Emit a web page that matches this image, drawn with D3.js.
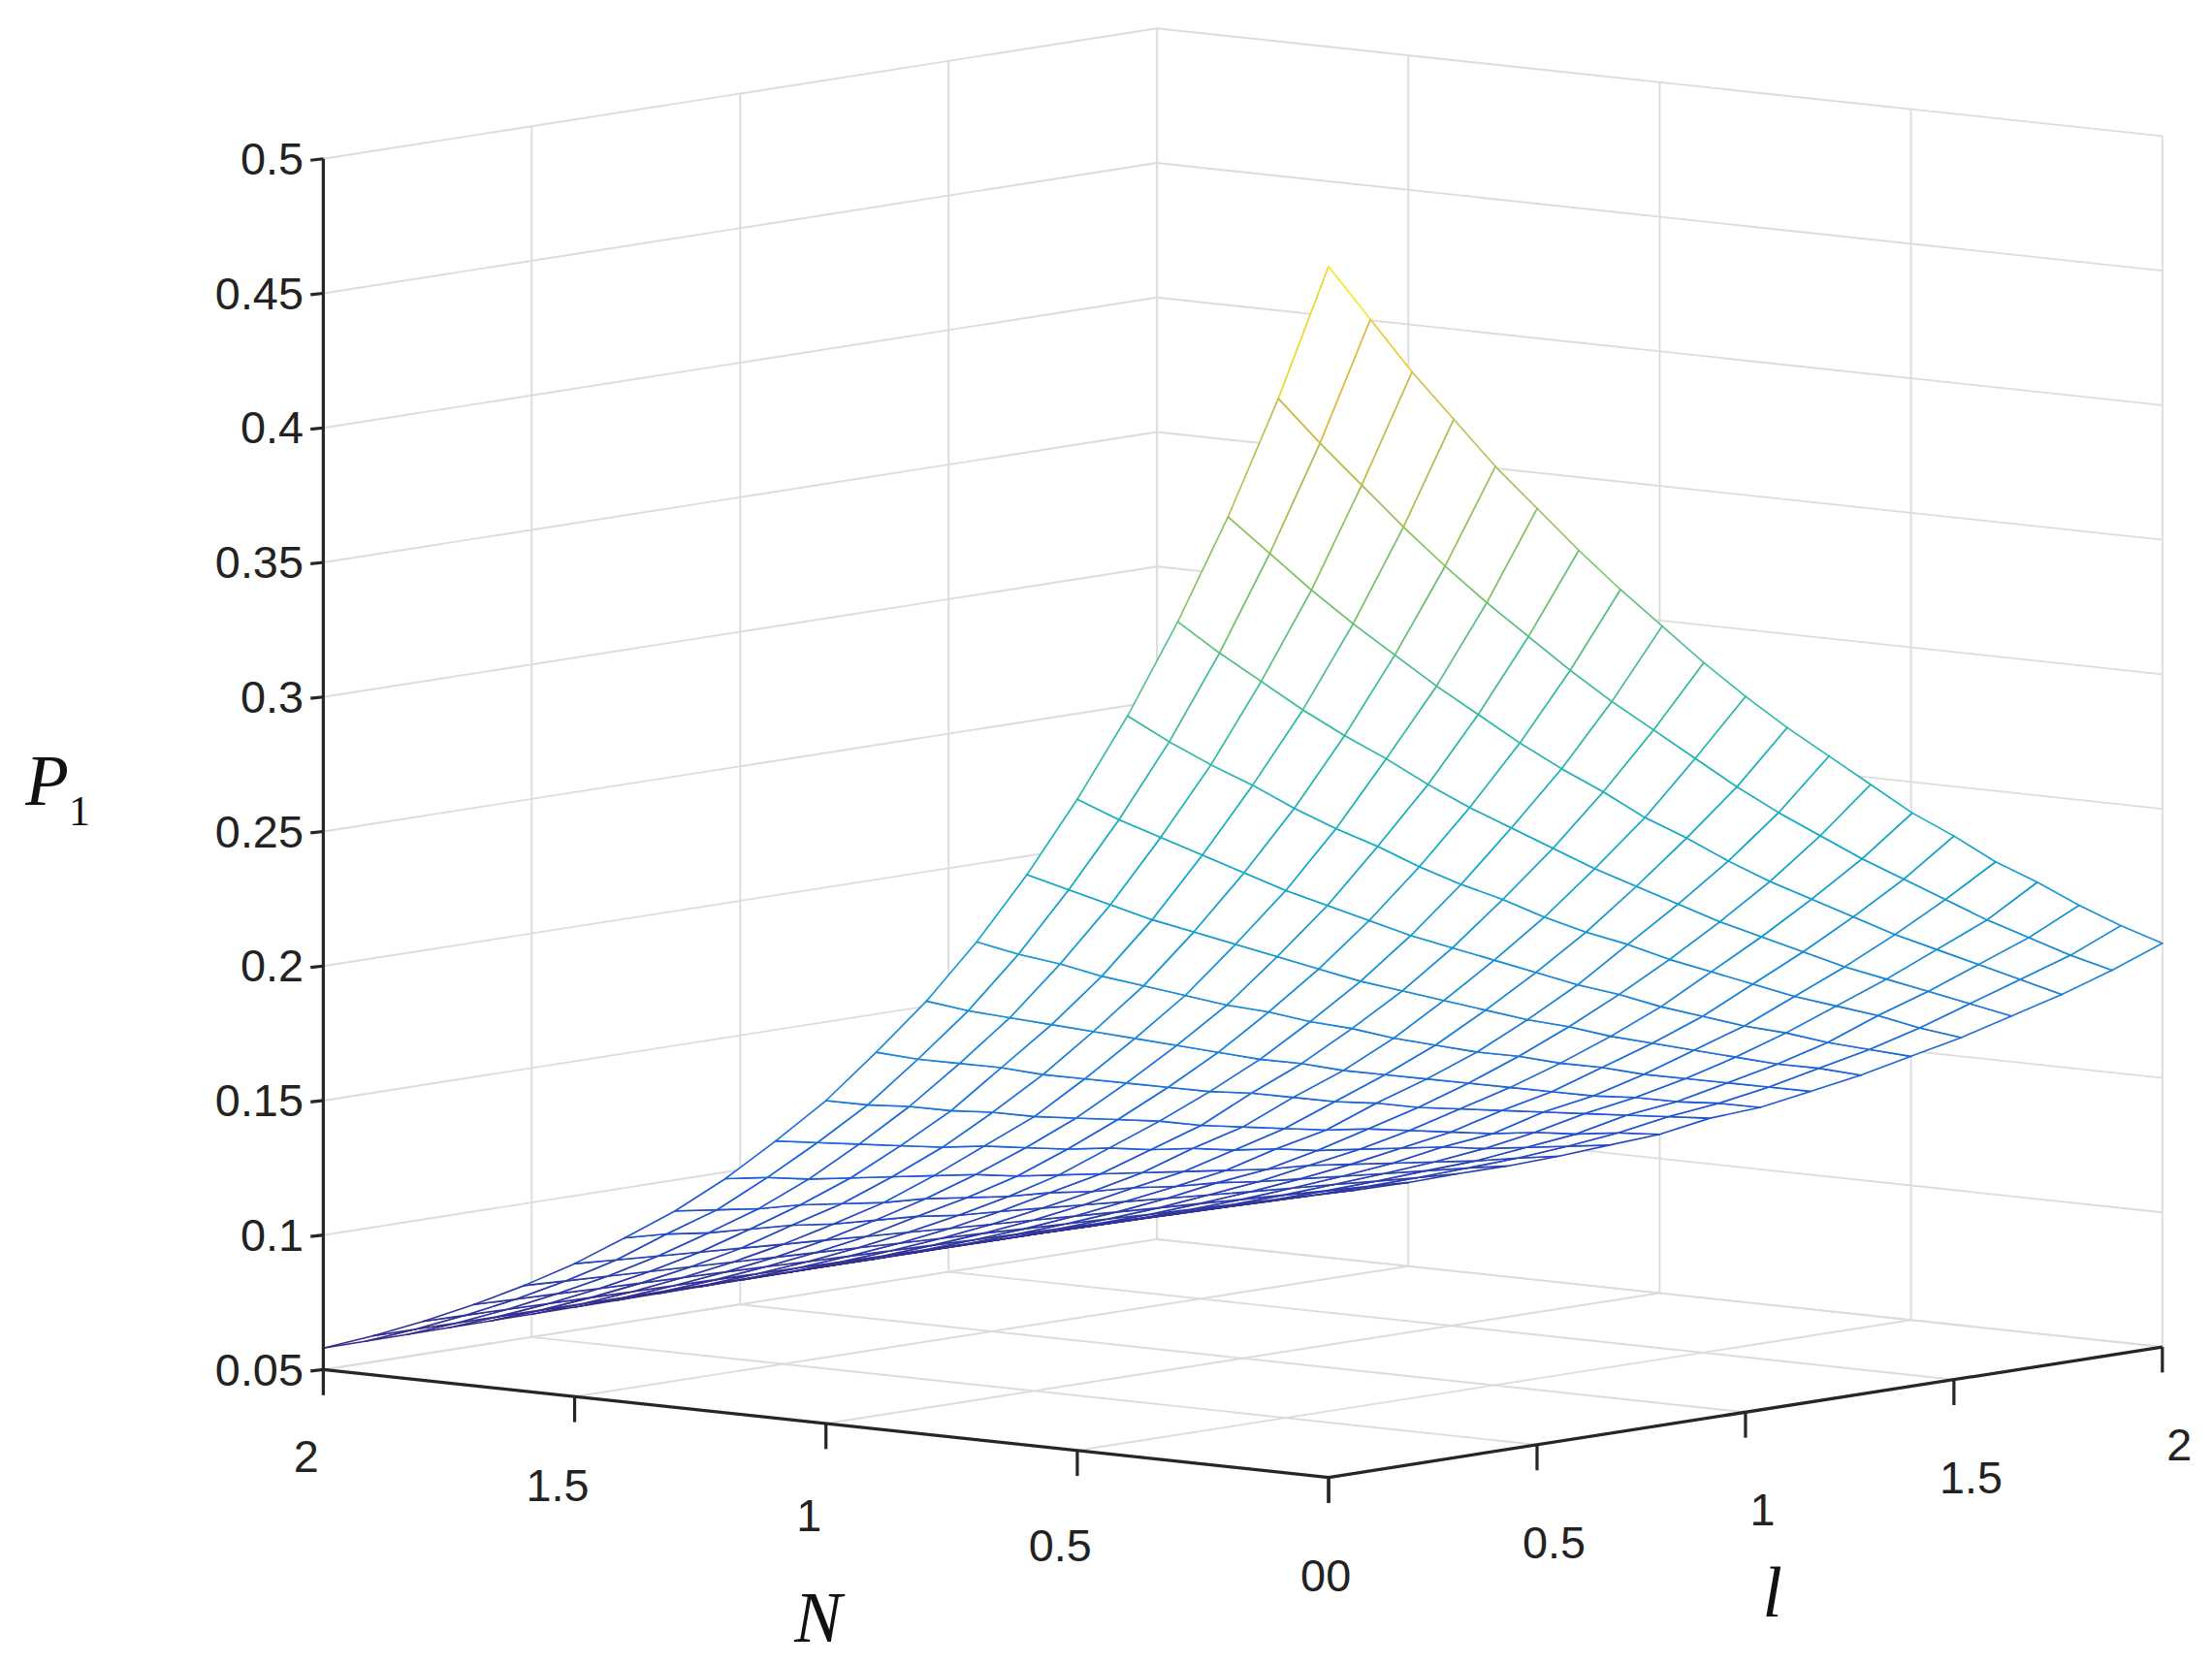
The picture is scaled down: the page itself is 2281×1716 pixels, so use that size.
<!DOCTYPE html>
<html>
<head>
<meta charset="utf-8">
<script src="https://cdn.jsdelivr.net/npm/d3@7"></script>
<style>
  html, body { margin: 0; padding: 0; background: #fff; }
  svg { display: block; }
  .tick { font-family: "Liberation Sans", Arial, sans-serif; font-size: 32px; fill: #222; }
  .lab { font-family: "Liberation Serif", "Times New Roman", serif; font-style: italic; font-size: 50px; fill: #111; }
</style>
</head>
<body>
<div id="chart"></div>
<script>
// grid values of the surface
var nVals = [0, 0.1, 0.2, 0.3, 0.4, 0.5, 0.6, 0.7, 0.8, 0.9, 1.0, 1.1, 1.2, 1.3, 1.4, 1.5, 1.6, 1.7, 1.8, 1.9, 2.0];
var lVals = [0, 0.1, 0.2, 0.3, 0.4, 0.5, 0.6, 0.7, 0.8, 0.9, 1.0, 1.1, 1.2, 1.3, 1.4, 1.5, 1.6, 1.7, 1.8, 1.9, 2.0];
// rows: N, columns: l
var p1 = [
  [.500,.478,.456,.436,.416,.398,.380,.363,.347,.331,.316,.302,.289,.276,.263,.252,.240,.230,.219,.209,.200],
  [.449,.430,.412,.394,.377,.361,.346,.331,.317,.304,.291,.278,.266,.255,.244,.234,.224,.214,.205,.196,.188],
  [.403,.387,.371,.356,.342,.328,.315,.302,.290,.279,.267,.257,.246,.236,.227,.218,.209,.201,.193,.185,.177],
  [.362,.348,.335,.322,.310,.299,.287,.276,.266,.256,.246,.237,.228,.219,.211,.203,.195,.188,.181,.174,.167],
  [.325,.313,.302,.292,.281,.271,.262,.252,.243,.235,.226,.218,.211,.203,.196,.189,.182,.176,.170,.163,.157],
  [.292,.282,.273,.264,.255,.246,.238,.230,.222,.215,.208,.201,.194,.188,.181,.175,.169,.164,.158,.153,.148],
  [.262,.254,.246,.238,.231,.224,.217,.210,.203,.197,.191,.185,.179,.174,.168,.163,.158,.153,.148,.144,.139],
  [.235,.228,.222,.215,.209,.203,.197,.192,.186,.181,.175,.170,.165,.161,.156,.152,.147,.143,.139,.135,.131],
  [.211,.205,.200,.195,.190,.185,.180,.175,.170,.166,.161,.157,.153,.149,.145,.141,.137,.134,.130,.127,.123],
  [.190,.185,.181,.177,.172,.168,.164,.160,.156,.153,.149,.145,.142,.138,.135,.132,.129,.126,.123,.120,.117],
  [.170,.166,.163,.159,.156,.152,.149,.146,.143,.139,.136,.133,.130,.128,.125,.122,.119,.117,.114,.112,.109],
  [.153,.150,.147,.144,.141,.139,.136,.133,.131,.128,.126,.123,.121,.118,.116,.114,.112,.109,.107,.105,.103],
  [.137,.135,.132,.130,.128,.126,.124,.121,.119,.117,.115,.113,.111,.109,.108,.106,.104,.102,.100,.0986,.0969],
  [.123,.121,.119,.118,.116,.114,.113,.111,.109,.108,.106,.105,.103,.102,.100,.0986,.0971,.0957,.0943,.0929,.0913],
  [.111,.110,.108,.107,.106,.104,.103,.102,.100,.0990,.0978,.0966,.0954,.0942,.0930,.0918,.0907,.0896,.0884,.0873,.0864],
  [.0994,.0984,.0974,.0964,.0955,.0945,.0936,.0926,.0917,.0907,.0898,.0889,.0880,.0871,.0862,.0854,.0845,.0837,.0828,.0820,.0811],
  [.0893,.0886,.0879,.0872,.0866,.0859,.0852,.0846,.0839,.0832,.0826,.0820,.0813,.0807,.0801,.0794,.0788,.0782,.0776,.0770,.0764],
  [.0802,.0798,.0794,.0789,.0785,.0781,.0777,.0773,.0768,.0764,.0760,.0756,.0752,.0748,.0744,.0740,.0736,.0732,.0728,.0724,.0720],
  [.0720,.0718,.0716,.0713,.0711,.0709,.0707,.0705,.0703,.0701,.0698,.0696,.0694,.0692,.0690,.0688,.0686,.0684,.0681,.0679,.0677],
  [.0646,.0646,.0645,.0645,.0644,.0644,.0643,.0643,.0642,.0642,.0641,.0641,.0640,.0640,.0640,.0639,.0639,.0638,.0638,.0637,.0637],
  [.0580,.0581,.0582,.0583,.0584,.0585,.0586,.0587,.0588,.0589,.0590,.0591,.0592,.0593,.0594,.0595,.0596,.0597,.0598,.0599,.0600]
];
var zTicks = [0.05, 0.1, 0.15, 0.2, 0.25, 0.3, 0.35, 0.4, 0.45, 0.5];
var nTicks = [0, 0.5, 1, 1.5, 2];
var lTicks = [0, 0.5, 1, 1.5, 2];

var W = 1560, H = 1173.6;
var svg = d3.select('#chart').append('svg')
  .attr('width', 2281).attr('height', 1716)
  .attr('viewBox', '0 0 ' + W + ' ' + H);

// orthographic projection of the axes box
var origin = [937, 1042];                    // N=0, l=0, z=0.05
var nx = d3.scaleLinear().domain([0, 2]).range([0, -709]);
var ny = d3.scaleLinear().domain([0, 2]).range([0, -76]);
var lx = d3.scaleLinear().domain([0, 2]).range([0, 588]);
var ly = d3.scaleLinear().domain([0, 2]).range([0, -92]);
var zy = d3.scaleLinear().domain([0.05, 0.5]).range([0, -854]);
function proj(n, l, z) {
  return [origin[0] + nx(n) + lx(l), origin[1] + ny(n) + ly(l) + zy(z)];
}

var parula = d3.scaleLinear()
  .domain([0, 0.15, 0.3, 0.45, 0.6, 0.75, 0.9, 1])
  .range(['#352a87', '#1e55d8', '#1a87d8', '#11aac9', '#3cbf9c', '#8fc35c', '#e0ba3c', '#f9fb0e']);
var zmin = d3.min(p1, r => d3.min(r)), zmax = d3.max(p1, r => d3.max(r));
function col(z) { return parula((z - zmin) / (zmax - zmin)); }

var grid = svg.append('g').attr('stroke', '#dcdcdc').attr('stroke-width', 1.3).attr('fill', 'none');
function seg(g, a, b) { g.append('line').attr('x1', a[0]).attr('y1', a[1]).attr('x2', b[0]).attr('y2', b[1]); }

// back walls: N=2 plane and l=2 plane
zTicks.forEach(function (z) {
  seg(grid, proj(2, 0, z), proj(2, 2, z));
  seg(grid, proj(2, 2, z), proj(0, 2, z));
});
lTicks.forEach(function (l) { seg(grid, proj(2, l, 0.05), proj(2, l, 0.5)); });
nTicks.forEach(function (n) { seg(grid, proj(n, 2, 0.05), proj(n, 2, 0.5)); });
// floor
nTicks.forEach(function (n) { seg(grid, proj(n, 0, 0.05), proj(n, 2, 0.05)); });
lTicks.forEach(function (l) { seg(grid, proj(0, l, 0.05), proj(2, l, 0.05)); });

// mesh quads, painted back to front
var quads = [];
for (var i = 0; i < nVals.length - 1; i++) {
  for (var j = 0; j < lVals.length - 1; j++) {
    quads.push({i: i, j: j, depth: 38 * (nVals[i] + nVals[i + 1]) + 46 * (lVals[j] + lVals[j + 1])});
  }
}
quads.sort(function (a, b) { return b.depth - a.depth; });
var mesh = svg.append('g');
quads.forEach(function (q) {
  var i = q.i, j = q.j;
  var c = [[i, j], [i + 1, j], [i + 1, j + 1], [i, j + 1]];
  var pts = c.map(function (k) { return proj(nVals[k[0]], lVals[k[1]], p1[k[0]][k[1]]); });
  mesh.append('polygon').attr('points', pts.map(p => p.join(',')).join(' '))
    .attr('fill', '#fff').attr('stroke', 'none');
  for (var e = 0; e < 4; e++) {
    var a = c[e], b = c[(e + 1) % 4];
    var za = p1[a[0]][a[1]], zb = p1[b[0]][b[1]];
    mesh.append('line')
      .attr('x1', pts[e][0]).attr('y1', pts[e][1])
      .attr('x2', pts[(e + 1) % 4][0]).attr('y2', pts[(e + 1) % 4][1])
      .attr('stroke', col((za + zb) / 2)).attr('stroke-width', 1.1)
      .attr('stroke-linecap', 'round');
  }
});

// axes lines
var ax = svg.append('g').attr('stroke', '#262626').attr('stroke-width', 2.2).attr('fill', 'none');
seg(ax, proj(2, 0, 0.05), proj(2, 0, 0.5));
seg(ax, proj(2, 0, 0.05), proj(0, 0, 0.05));
seg(ax, proj(0, 0, 0.05), proj(0, 2, 0.05));

// ticks and labels
zTicks.forEach(function (z) {
  var p = proj(2, 0, z);
  seg(ax, [p[0] - 9, p[1] + 1], p);
  svg.append('text').attr('class', 'tick').attr('x', p[0] - 14).attr('y', p[1] + 11)
    .attr('text-anchor', 'end').text(String(z));
});
nTicks.forEach(function (n) {
  var p = proj(n, 0, 0.05);
  seg(ax, p, [p[0], p[1] + 18]);
  svg.append('text').attr('class', 'tick').attr('x', p[0] - (n === 0 ? 2 : 12)).attr('y', p[1] + 80 - n * 4)
    .attr('text-anchor', n === 0 ? 'end' : 'middle').text(String(n));
});
lTicks.forEach(function (l) {
  var p = proj(0, l, 0.05);
  seg(ax, p, [p[0], p[1] + 18]);
  svg.append('text').attr('class', 'tick').attr('x', p[0] + (l === 0 ? -2 : 12)).attr('y', p[1] + 80)
    .attr('text-anchor', l === 0 ? 'start' : 'middle').text(String(l));
});

svg.append('text').attr('class', 'lab').attr('x', 577).attr('y', 1158).attr('text-anchor', 'middle').text('N');
svg.append('text').attr('class', 'lab').attr('x', 1250).attr('y', 1140).attr('text-anchor', 'middle').text('l');
var pl = svg.append('text').attr('class', 'lab').attr('x', 18).attr('y', 568);
pl.append('tspan').text('P');
pl.append('tspan').attr('font-style', 'normal').attr('font-size', 30).attr('dy', 14).text('1');
</script>
</body>
</html>
